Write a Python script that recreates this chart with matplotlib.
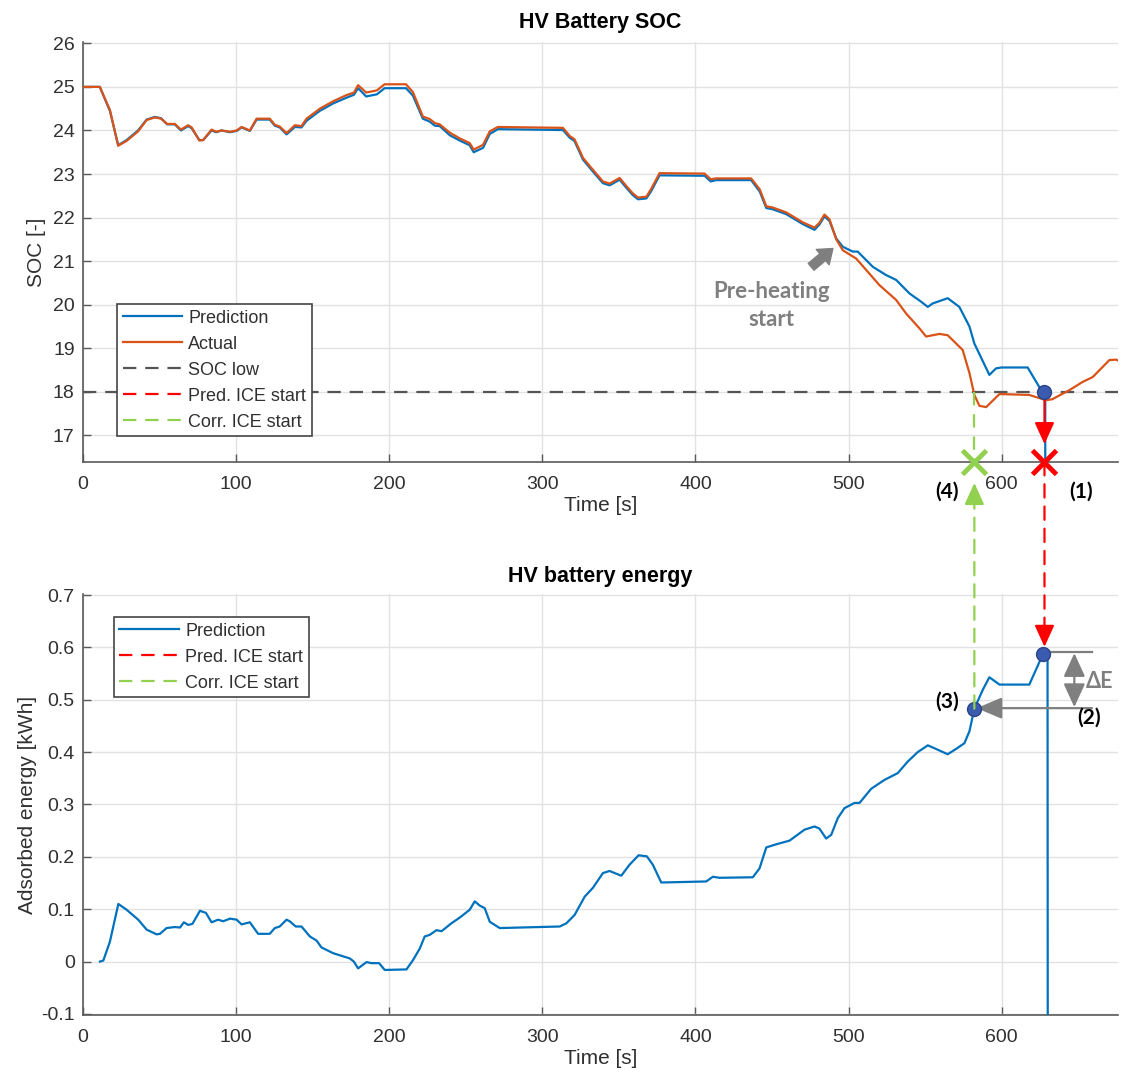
import numpy as np
import matplotlib
matplotlib.use("Agg")
import matplotlib.pyplot as plt
from matplotlib.lines import Line2D
from matplotlib.patches import ConnectionPatch

plt.rcParams["font.family"] = ["Liberation Sans", "DejaVu Sans"]
plt.rcParams["axes.unicode_minus"] = False

# ── data ─────────────────────────────────────────────────────────────────────
soc_pred_t = [0, 11, 17.6, 23, 28.5, 36, 41.6, 47, 51, 55, 60, 64, 68.7, 71, 76, 78.5, 84, 87, 90.5,
              96, 100.4, 103.6, 109, 113.4, 122, 125.3, 128.5, 133, 138.4, 142.7, 146, 154.7, 163.4,
              172, 177, 179.7, 185, 192, 197, 211, 215.5, 222, 226.6, 229.8, 233, 239.6, 246, 252.6,
              255.2, 261.3, 265.7, 271, 313.5, 318, 321, 326.6, 333, 339.6, 344, 350.5, 355, 359,
              362.5, 368, 371, 376.6, 406, 410, 413.5, 436.4, 442, 446.3, 450.6, 459.3, 470.2, 477.8,
              481, 484.3, 487.6, 492, 496.3, 502.8, 506, 515.9, 524.6, 531.1, 539.8, 547.4, 551.8,
              555, 564.8, 572.4, 579, 582.2, 592, 596.4, 600, 617, 627, 628.5, 628.6]
soc_pred = [25, 25, 24.45, 23.66, 23.78, 24.0, 24.25, 24.31, 24.28, 24.14, 24.14, 24.0, 24.1, 24.05,
            23.78, 23.78, 24.0, 23.96, 24.0, 23.96, 23.99, 24.07, 23.99, 24.25, 24.25, 24.11, 24.07,
            23.91, 24.08, 24.07, 24.22, 24.45, 24.62, 24.75, 24.82, 24.97, 24.78, 24.83, 24.97, 24.97,
            24.8, 24.27, 24.2, 24.11, 24.1, 23.89, 23.77, 23.66, 23.5, 23.6, 23.92, 24.03, 24.01,
            23.83, 23.76, 23.33, 23.06, 22.79, 22.74, 22.87, 22.68, 22.52, 22.42, 22.44, 22.6, 22.97,
            22.96, 22.83, 22.86, 22.86, 22.6, 22.22, 22.19, 22.08, 21.85, 21.72, 21.84, 22.03, 21.92,
            21.52, 21.33, 21.22, 21.22, 20.87, 20.68, 20.57, 20.26, 20.07, 19.95, 20.03, 20.15, 19.95,
            19.5, 19.11, 18.39, 18.54, 18.56, 18.56, 17.97, 17.95, 10.0]

soc_act_t = [0, 11, 17.6, 23, 28.5, 36, 41.6, 47, 51, 55, 60, 64, 68.7, 71, 76, 78.5, 84, 87, 90.5,
             96, 100.4, 103.6, 109, 113.4, 122, 125.3, 128.5, 133, 138.4, 142.7, 146, 154.7, 163.4,
             172, 177, 179.7, 185, 192, 197, 211, 215.5, 222, 226.6, 229.8, 233, 239.6, 246, 252.6,
             255.2, 261.3, 265.7, 271, 313.5, 318, 321, 326.6, 333, 339.6, 344, 350.5, 355, 359,
             362.5, 368, 371, 376.6, 406, 410, 413.5, 436.4, 442, 446.3, 450.6, 459.3, 470.2, 477.8,
             481, 484.3, 487.6, 492, 496.3, 505, 511.5, 520.2, 531.1, 537.6, 546.3, 550.7, 559.4,
             564.8, 574.6, 579, 582.2, 585.5, 589.9, 598.6, 618, 629, 633, 644.3, 653, 659.5, 670.4,
             674.8, 676]
soc_act = [25, 25, 24.47, 23.65, 23.76, 23.98, 24.24, 24.3, 24.27, 24.15, 24.15, 24.02, 24.12, 24.07,
           23.77, 23.78, 24.02, 23.97, 24.0, 23.97, 24.0, 24.08, 24.0, 24.27, 24.27, 24.13, 24.09,
           23.94, 24.12, 24.1, 24.27, 24.5, 24.67, 24.81, 24.87, 25.04, 24.87, 24.92, 25.06, 25.06,
           24.88, 24.32, 24.26, 24.17, 24.14, 23.95, 23.82, 23.71, 23.56, 23.67, 23.98, 24.08, 24.06,
           23.87, 23.8, 23.37, 23.1, 22.83, 22.78, 22.91, 22.72, 22.56, 22.46, 22.48, 22.65, 23.02,
           23.01, 22.88, 22.9, 22.9, 22.65, 22.26, 22.23, 22.12, 21.89, 21.77, 21.88, 22.07, 21.96,
           21.5, 21.25, 21.06, 20.8, 20.45, 20.11, 19.8, 19.46, 19.27, 19.33, 19.3, 18.96, 18.43,
           17.93, 17.68, 17.65, 17.95, 17.93, 17.81, 17.83, 18.04, 18.23, 18.34, 18.73, 18.74, 18.72]

energy_t = [11.1, 13.3, 17.6, 23.1, 28.5, 36.1, 41.6, 48.1, 50.3, 54.6, 60, 63.4, 65.9, 68.7, 71.5,
            76.4, 80.3, 84, 88.3, 91.6, 96, 100.4, 103.6, 109, 114.4, 122, 125.3, 128.5, 133, 135,
            139, 142.7, 148.2, 152.6, 155.8, 163.4, 169.9, 174.3, 176.9, 179.7, 185.2, 188.4, 193.4,
            197.1, 211.3, 215.6, 220, 223.2, 226.5, 230.9, 234.2, 240.6, 246.1, 252.6, 255.9, 259.1,
            262.4, 265.7, 272.2, 311.4, 315.7, 321.1, 327.7, 333.1, 339.6, 343.9, 351.6, 357, 362.9,
            368.3, 372.2, 377.7, 407.1, 411.4, 415.8, 437.5, 441.9, 446.3, 452.8, 461.5, 471.3,
            477.8, 481, 485.4, 488.7, 493, 497.4, 503.9, 507.2, 514.8, 523.5, 532.2, 538.7, 545.2,
            551.8, 557.2, 564.8, 570.2, 575.7, 579, 582.2, 587.7, 592, 598.6, 618.1, 626.8, 630,
            630.2]
energy = [0.0, 0.002, 0.038, 0.11, 0.099, 0.08, 0.061, 0.052, 0.053, 0.064, 0.066, 0.065, 0.075,
          0.07, 0.072, 0.097, 0.093, 0.075, 0.08, 0.077, 0.082, 0.08, 0.071, 0.075, 0.053, 0.053,
          0.064, 0.067, 0.08, 0.077, 0.067, 0.067, 0.048, 0.04, 0.027, 0.016, 0.01, 0.006, 0.0,
          -0.013, -0.001, -0.003, -0.003, -0.016, -0.015, 0.003, 0.025, 0.048, 0.051, 0.06, 0.058,
          0.073, 0.084, 0.099, 0.115, 0.107, 0.102, 0.076, 0.064, 0.067, 0.073, 0.089, 0.124, 0.141,
          0.169, 0.173, 0.164, 0.185, 0.203, 0.201, 0.185, 0.151, 0.153, 0.162, 0.16, 0.161, 0.178,
          0.218, 0.224, 0.231, 0.252, 0.258, 0.254, 0.235, 0.242, 0.274, 0.293, 0.303, 0.303, 0.33,
          0.347, 0.36, 0.382, 0.4, 0.413, 0.406, 0.396, 0.406, 0.417, 0.44, 0.483, 0.519, 0.543,
          0.529, 0.529, 0.586, 0.59, -0.5]

soc_low = 18
pred_ice_t = 628      # predicted ICE start (1)
corr_ice_t = 582.2    # corrected ICE start (4)
e_pred = 0.587        # energy at predicted start
e_corr = 0.483        # energy at corrected start

x_ticks = [0, 100, 200, 300, 400, 500, 600]
soc_ticks = [17, 18, 19, 20, 21, 22, 23, 24, 25, 26]
e_ticks = [-0.1, 0, 0.1, 0.2, 0.3, 0.4, 0.5, 0.6, 0.7]
e_tick_labels = ["-0.1", "0", "0.1", "0.2", "0.3", "0.4", "0.5", "0.6", "0.7"]

# ── styling ───────────────────────────────────────────────────────────────────
BLUE, ORANGE = "#0072BD", "#D95319"
RED, GREEN, GREY = "#FF0000", "#92D050", "#7F7F7F"
DOT = "#3A5BB0"
TXT = "#303030"
ANN = dict(fontweight="bold", family=["Lato", "Open Sans", "DejaVu Sans"])
dash = (0, (6, 4))
head = "-|>,head_width=0.5,head_length=1.1"

fig = plt.figure(figsize=(11.38, 10.8), dpi=100)
ax1 = fig.add_axes([0.0729, 0.5722, 0.9095, 0.3889])
ax2 = fig.add_axes([0.0729, 0.0602, 0.9095, 0.3898])


def style(ax):
    for s in ("top", "right"):
        ax.spines[s].set_visible(False)
    for s in ("left", "bottom"):
        ax.spines[s].set_color("#5a5a5a")
        ax.spines[s].set_linewidth(1.2)
    ax.grid(True, color="#e2e2e2", lw=1.0)
    ax.set_axisbelow(True)
    ax.tick_params(direction="in", length=6, width=1, colors="#5a5a5a", labelcolor=TXT,
                   labelsize=14)
    ax.tick_params(axis="x", pad=10)
    ax.tick_params(axis="y", pad=6)
    ax.set_xlim(0, 676)
    ax.set_xticks(x_ticks)
    ax.set_xlabel("Time [s]", fontsize=15, color=TXT, labelpad=2)


def add_legend(ax, handles, labels, anchor):
    leg = ax.legend(handles, labels, loc="upper left", bbox_to_anchor=anchor, fontsize=13,
                    frameon=True, fancybox=False, edgecolor="#444444", framealpha=1,
                    handlelength=3.3, handletextpad=0.35, labelspacing=0.5, borderpad=0.3,
                    borderaxespad=0)
    leg.get_frame().set_linewidth(1.2)
    for t in leg.get_texts():
        t.set_color(TXT)


# ── top: SOC ──────────────────────────────────────────────────────────────────
style(ax1)
ax1.set_ylim(16.39, 26.03)
ax1.set_yticks(soc_ticks)
ax1.set_ylabel("SOC [-]", fontsize=15, color=TXT, labelpad=5)
ax1.set_title("HV Battery SOC", fontsize=15.5, fontweight="bold", pad=10)

ax1.plot(soc_pred_t, soc_pred, color=BLUE, lw=1.6, zorder=3)
ax1.plot(soc_act_t, soc_act, color=ORANGE, lw=1.6, zorder=4)
ax1.axhline(soc_low, color="#555555", lw=1.6, ls=dash, zorder=2)

ybot = ax1.get_ylim()[0]
ax1.plot([corr_ice_t, corr_ice_t], [soc_low, ybot], color=GREEN, lw=1.6, ls=dash, zorder=5)
ax1.annotate("", xy=(pred_ice_t, 16.8), xytext=(pred_ice_t, soc_low),
             arrowprops=dict(arrowstyle=head, color=RED, lw=1.6, mutation_scale=12,
                             shrinkA=0, shrinkB=0), zorder=6)
ax1.plot([pred_ice_t], [soc_low], "o", ms=10, color=DOT, mec="#2a4485", zorder=7)
ax1.plot([pred_ice_t], [ybot], "x", ms=17, mew=3.5, color=RED, clip_on=False, zorder=8)
ax1.plot([corr_ice_t], [ybot], "x", ms=17, mew=3.5, color=GREEN, clip_on=False, zorder=8)

ax1.text(450, 19.98, "Pre-heating\nstart", ha="center", va="center", fontsize=16, color=GREY,
         linespacing=1.4, **ANN)
ax1.annotate("", xy=(489.8, 21.29), xytext=(475.6, 20.87),
             arrowprops=dict(arrowstyle="simple,head_length=0.6,head_width=0.9,tail_width=0.4",
                             color=GREY, mutation_scale=16, shrinkA=0, shrinkB=0))
ax1.text(652, 15.72, "(1)", ha="center", va="center", fontsize=15, color="black", **ANN)
ax1.text(564.6, 15.72, "(4)", ha="center", va="center", fontsize=15, color="black", **ANN)
ax1.annotate("", xy=(corr_ice_t, 15.91), xytext=(corr_ice_t, 15.5), annotation_clip=False,
             arrowprops=dict(arrowstyle=head, color=GREEN, lw=1.6, mutation_scale=12,
                             shrinkA=0, shrinkB=0))

h1 = [Line2D([], [], color=BLUE, lw=1.6), Line2D([], [], color=ORANGE, lw=1.6),
      Line2D([], [], color="#555555", lw=1.6, ls=dash), Line2D([], [], color=RED, lw=1.6, ls=dash),
      Line2D([], [], color=GREEN, lw=1.6, ls=dash)]
add_legend(ax1, h1, ["Prediction", "Actual", "SOC low", "Pred. ICE start", "Corr. ICE start"],
           (0.033, 0.376))

# ── bottom: energy ────────────────────────────────────────────────────────────
style(ax2)
ax2.set_ylim(-0.102, 0.702)
ax2.set_yticks(e_ticks)
ax2.set_yticklabels(e_tick_labels)
ax2.set_ylabel("Adsorbed energy [kWh]", fontsize=15, color=TXT, labelpad=3)
ax2.set_title("HV battery energy", fontsize=15.5, fontweight="bold", pad=9)

ax2.plot(energy_t, energy, color=BLUE, lw=1.6, zorder=3)
ax2.plot([pred_ice_t - 1.2], [e_pred], "o", ms=10, color=DOT, mec="#2a4485", zorder=7)
ax2.plot([corr_ice_t], [e_corr], "o", ms=10, color=DOT, mec="#2a4485", zorder=7)

# connectors between the two panels
fig.add_artist(ConnectionPatch(xyA=(pred_ice_t, ybot), coordsA=ax1.transData,
                               xyB=(pred_ice_t, 0.63), coordsB=ax2.transData,
                               color=RED, lw=1.6, ls=dash, zorder=5))
ax2.annotate("", xy=(pred_ice_t, 0.601), xytext=(pred_ice_t, 0.64),
             arrowprops=dict(arrowstyle=head, color=RED, lw=1.6, mutation_scale=12,
                             shrinkA=0, shrinkB=0))
fig.add_artist(ConnectionPatch(xyA=(corr_ice_t, e_corr), coordsA=ax2.transData,
                               xyB=(corr_ice_t, 15.5), coordsB=ax1.transData,
                               color=GREEN, lw=1.6, ls=dash, zorder=5))

# delta E bracket
ax2.plot([pred_ice_t, 659], [0.591, 0.591], color=GREY, lw=1.6)
ax2.annotate("", xy=(corr_ice_t + 1.5, 0.484), xytext=(659, 0.484),
             arrowprops=dict(arrowstyle="-|>,head_width=0.55,head_length=1.3", color=GREY, lw=1.6,
                             mutation_scale=12, shrinkA=0, shrinkB=0))
ax2.annotate("", xy=(647.5, 0.589), xytext=(647.5, 0.486),
             arrowprops=dict(arrowstyle="<|-|>,head_width=0.55,head_length=1.2", color=GREY,
                             lw=1.6, mutation_scale=12, shrinkA=0, shrinkB=0))
ax2.text(564.6, 0.497, "(3)", ha="center", va="center", fontsize=15, color="black", **ANN)
ax2.text(657, 0.466, "(2)", ha="center", va="center", fontsize=15, color="black", **ANN)
ax2.text(664, 0.534, "ΔE", ha="center", va="center", fontsize=15.5, color=GREY, **ANN)

h2 = [Line2D([], [], color=BLUE, lw=1.6), Line2D([], [], color=RED, lw=1.6, ls=dash),
      Line2D([], [], color=GREEN, lw=1.6, ls=dash)]
add_legend(ax2, h2, ["Prediction", "Pred. ICE start", "Corr. ICE start"], (0.030, 0.945))

fig.savefig("out.png", dpi=100)
